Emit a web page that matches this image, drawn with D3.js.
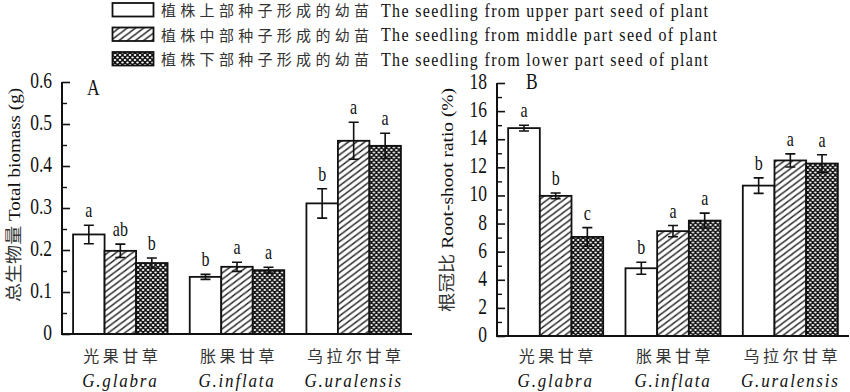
<!DOCTYPE html>
<html>
<head>
<meta charset="utf-8">
<script src="https://cdn.jsdelivr.net/npm/d3@7"></script>
<style>
  body { margin: 0; background: #fff; }
  text { font-family: "Liberation Serif", "DejaVu Serif", serif; fill: #111; }
  .cn { font-family: "Noto Sans CJK SC", sans-serif; fill: #333; }
</style>
</head>
<body>
<svg id="chart" width="850" height="392"></svg>
<script>
// categories and series
const species = ["光果甘草", "胀果甘草", "乌拉尔甘草"];
const speciesLatin = ["G.glabra", "G.inflata", "G.uralensis"];
const seriesKeys = ["upper", "middle", "lower"];
const legendCn = ["植株上部种子形成的幼苗", "植株中部种子形成的幼苗", "植株下部种子形成的幼苗"];
const legendEn = [
  "The seedling from upper part seed of plant",
  "The seedling from middle part seed of plant",
  "The seedling from lower part seed of plant"
];

// panel A: total biomass (g), rows = species, cols = series
const biomass = [[0.237, 0.198, 0.169], [0.136, 0.160, 0.152], [0.311, 0.460, 0.448]];
const biomassErr = [[0.022, 0.016, 0.012], [0.006, 0.011, 0.007], [0.035, 0.044, 0.030]];
const biomassSig = [["a", "ab", "b"], ["b", "a", "a"], ["b", "a", "a"]];
const biomassTicks = [0, 0.1, 0.2, 0.3, 0.4, 0.5, 0.6];

// panel B: root-shoot ratio (%)
const ratio = [[14.79, 9.97, 7.05], [4.82, 7.46, 8.21], [10.70, 12.49, 12.27]];
const ratioErr = [[0.20, 0.20, 0.66], [0.43, 0.40, 0.53], [0.55, 0.47, 0.62]];
const ratioSig = [["a", "b", "c"], ["b", "a", "a"], ["b", "a", "a"]];
const ratioTicks = [0, 2, 4, 6, 8, 10, 12, 14, 16, 18];

const SY = 1.3; // the figure's text is stretched vertically
const svg = d3.select("#chart");

// fill patterns
const defs = svg.append("defs");
const hatch = defs.append("pattern")
  .attr("id", "hatch").attr("patternUnits", "userSpaceOnUse")
  .attr("width", 7).attr("height", 7)
  .attr("patternTransform", "rotate(8)");
hatch.append("rect").attr("width", 7).attr("height", 7).attr("fill", "#fff");
hatch.append("path").attr("d", "M-1,8 L8,-1 M-1,1 L1,-1 M6,8 L8,6")
  .attr("stroke", "#111").attr("stroke-width", 1.3);
const cross = defs.append("pattern")
  .attr("id", "cross").attr("patternUnits", "userSpaceOnUse")
  .attr("width", 5).attr("height", 5);
cross.append("rect").attr("width", 5).attr("height", 5).attr("fill", "#111");
cross.append("ellipse").attr("cx", 2.5).attr("cy", 2.5).attr("rx", 1.3).attr("ry", 1.1).attr("fill", "#fff");
[[0, 0], [5, 0], [0, 5], [5, 5]].forEach(function (p) {
  cross.append("ellipse").attr("cx", p[0]).attr("cy", p[1]).attr("rx", 1.3).attr("ry", 1.1).attr("fill", "#fff");
});
const fills = ["#fff", "url(#hatch)", "url(#cross)"];

function label(g, x, y, txt, size, anchor, sy) {
  return g.append("text")
    .attr("transform", "translate(" + x + "," + y + ") scale(1," + (sy || SY) + ")")
    .attr("text-anchor", anchor || "middle")
    .style("font-size", size + "px")
    .text(txt);
}

function drawPanel(opt) {
  const g = svg.append("g");
  const x = d3.scaleBand().domain(species).range([opt.x0, opt.x1])
    .paddingInner(0.19).paddingOuter(0.095);
  const xs = d3.scaleBand().domain(seriesKeys).range([0, x.bandwidth()]);
  const y = d3.scaleLinear().domain([0, opt.max]).range([opt.yBottom, opt.yTop]);

  // bars
  species.forEach(function (sp, i) {
    const gg = g.append("g").attr("transform", "translate(" + x(sp) + ",0)");
    seriesKeys.forEach(function (k, j) {
      const v = opt.values[i][j], e = opt.errs[i][j];
      const bx = xs(k), bw = xs.bandwidth(), cx = bx + bw / 2;
      gg.append("rect")
        .attr("x", bx).attr("y", y(v))
        .attr("width", bw).attr("height", y(0) - y(v))
        .attr("fill", fills[j]).attr("stroke", "#111").attr("stroke-width", 1.8);
      gg.append("path")
        .attr("d", "M" + cx + "," + y(v - e) + "V" + y(v + e) +
          "M" + (cx - 5) + "," + y(v - e) + "H" + (cx + 5) +
          "M" + (cx - 5) + "," + y(v + e) + "H" + (cx + 5))
        .attr("stroke", "#111").attr("stroke-width", 1.6).attr("fill", "none");
      label(gg, cx, y(v + e) - 8, opt.sig[i][j], 16);
    });
    // category labels
    const cx = x(sp) + x.bandwidth() / 2;
    g.append("text").attr("class", "cn")
      .attr("transform", "translate(" + (cx + 2) + "," + opt.cnY + ")")
      .attr("text-anchor", "middle")
      .style("font-size", "16px").style("letter-spacing", "3.5px")
      .text(sp);
    label(g, cx, opt.latY, speciesLatin[i], 17, "middle", 1.15)
      .style("font-style", "italic").style("letter-spacing", "1.8px");
  });

  // y axis with inward ticks
  const yAxis = d3.axisRight(y).tickValues(opt.ticks).tickSize(8).tickFormat("");
  g.append("g").attr("transform", "translate(" + opt.x0 + ",0)").call(yAxis)
    .call(function (a) { a.select(".domain").remove(); })
    .selectAll("line").attr("stroke", "#111").attr("stroke-width", 1.6);
  const minor = [];
  for (let k = 0; k < opt.ticks.length - 1; k++) minor.push((opt.ticks[k] + opt.ticks[k + 1]) / 2);
  g.append("g").attr("transform", "translate(" + opt.x0 + ",0)")
    .call(d3.axisRight(y).tickValues(minor).tickSize(5).tickFormat(""))
    .call(function (a) { a.select(".domain").remove(); })
    .selectAll("line").attr("stroke", "#111").attr("stroke-width", 1.4);
  opt.ticks.forEach(function (t) {
    label(g, opt.x0 - 10, y(t) + 6, String(t), 17.5, "end");
  });
  g.append("path")
    .attr("d", "M" + opt.x0 + "," + opt.yTop + "V" + opt.yBottom + "H" + opt.x1)
    .attr("stroke", "#111").attr("stroke-width", 2).attr("fill", "none");

  // panel letter and axis title
  label(g, opt.tagX, opt.tagY, opt.tag, 17.5, "start");
  const title = g.append("text")
    .attr("transform", "translate(" + opt.titleX + "," + opt.titleY + ") rotate(-90)")
    .attr("text-anchor", "middle")
    .attr("textLength", opt.titleLen).attr("lengthAdjust", "spacingAndGlyphs")
    .style("font-size", "17px");
  title.append("tspan").attr("class", "cn").text(opt.titleCn);
  title.append("tspan").text(" " + opt.titleEn);
}

drawPanel({
  x0: 62, x1: 412, yTop: 82, yBottom: 334, max: 0.6,
  values: biomass, errs: biomassErr, sig: biomassSig, ticks: biomassTicks,
  cnY: 362, latY: 387, tag: "A", tagX: 87, tagY: 95,
  titleCn: "总生物量", titleEn: "Total biomass (g)", titleX: 20, titleY: 195, titleLen: 214
});
drawPanel({
  x0: 497, x1: 849, yTop: 83, yBottom: 336, max: 18,
  values: ratio, errs: ratioErr, sig: ratioSig, ticks: ratioTicks,
  cnY: 362, latY: 387, tag: "B", tagX: 526, tagY: 89,
  titleCn: "根冠比", titleEn: "Root-shoot ratio (%)", titleX: 453, titleY: 200, titleLen: 224
});

// legend
const legend = svg.append("g");
const enLen = [327, 336, 327];
legendCn.forEach(function (t, i) {
  const ly = 3 + i * 24.5;
  legend.append("rect")
    .attr("x", 112.5).attr("y", ly).attr("width", 41).attr("height", 13.5)
    .attr("fill", fills[i]).attr("stroke", "#111").attr("stroke-width", 1.8);
  legend.append("text").attr("class", "cn")
    .attr("x", 161).attr("y", ly + 13)
    .style("font-size", "15px").style("letter-spacing", "4.3px")
    .text(t);
  legend.append("text")
    .attr("transform", "translate(381," + (ly + 13.5) + ") scale(1,1.2)")
    .attr("textLength", enLen[i]).attr("lengthAdjust", "spacing")
    .style("font-size", "16px")
    .text(legendEn[i]);
});
</script>
</body>
</html>
